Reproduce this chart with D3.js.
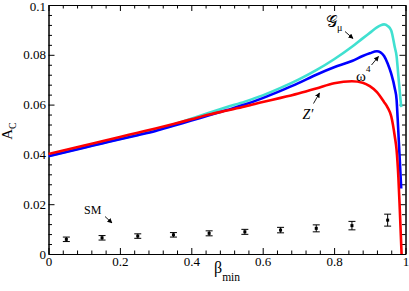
<!DOCTYPE html>
<html>
<head>
<meta charset="utf-8">
<script src="https://cdn.jsdelivr.net/npm/d3@7"></script>
<style>
  body { margin: 0; background: #fff; }
  svg { display: block; }
  .axis text { font-family: "Liberation Serif", "Times New Roman", serif; font-size: 13px; fill: #000; }
  .axis path, .axis line { stroke: #000; stroke-width: 1; }
  .lbl { font-family: "Liberation Serif", "Times New Roman", serif; fill: #000; }
</style>
</head>
<body>
<div id="chart"></div>
<script>
'use strict';

// Z' curve (red)
const redBeta = [0, 0.05, 0.1, 0.15, 0.2, 0.25, 0.3, 0.35, 0.4, 0.45, 0.5, 0.55, 0.6, 0.65, 0.7, 0.75, 0.8, 0.85,
  0.88, 0.9, 0.92, 0.94, 0.95, 0.96, 0.97, 0.975, 0.98, 0.984, 0.989];
const redA = [0.0402, 0.0419, 0.0436, 0.0453, 0.0470, 0.0487, 0.0504, 0.0522, 0.0541, 0.0560, 0.0576, 0.0592, 0.0610, 0.0627, 0.0645, 0.0665, 0.0686, 0.0694,
  0.0688, 0.0674, 0.0650, 0.0610, 0.0588, 0.0553, 0.0472, 0.0418, 0.0310, 0.0180, 0.0];

// omega^4 curve (blue)
const blueBeta = [0, 0.05, 0.1, 0.15, 0.2, 0.25, 0.3, 0.35, 0.4, 0.45, 0.5, 0.55, 0.6, 0.65, 0.7, 0.75, 0.8, 0.85,
  0.88, 0.9, 0.92, 0.93, 0.94, 0.95, 0.96, 0.97, 0.975, 0.978, 0.983, 0.988];
const blueA = [0.0393, 0.0410, 0.0427, 0.0444, 0.0461, 0.0477, 0.0494, 0.0515, 0.0536, 0.0557, 0.0578, 0.0600, 0.0626, 0.0655, 0.0686, 0.0720, 0.0750, 0.0775,
  0.0795, 0.0806, 0.0814, 0.0810, 0.0795, 0.0765, 0.0724, 0.0665, 0.0620, 0.0545, 0.0405, 0.0263];

// G_mu curve (turquoise)
const cyanBeta = [0, 0.05, 0.1, 0.15, 0.2, 0.25, 0.3, 0.35, 0.4, 0.45, 0.5, 0.55, 0.6, 0.65, 0.7, 0.75, 0.8, 0.85,
  0.88, 0.9, 0.92, 0.93, 0.94, 0.95, 0.96, 0.97, 0.975, 0.98, 0.985, 0.988];
const cyanA = [0.0394, 0.0411, 0.0428, 0.0445, 0.0462, 0.0479, 0.0497, 0.0519, 0.0543, 0.0567, 0.0590, 0.0612, 0.0637, 0.0667, 0.0700, 0.0738, 0.0782, 0.0832,
  0.0866, 0.0888, 0.0910, 0.0918, 0.0922, 0.0916, 0.0898, 0.0830, 0.0795, 0.0715, 0.0635, 0.0590];

// SM points with error bars
const smBeta = [0.05, 0.15, 0.25, 0.35, 0.45, 0.55, 0.65, 0.75, 0.85, 0.95];
const smA = [0.0059, 0.0065, 0.0072, 0.0077, 0.0083, 0.0089, 0.0096, 0.0103, 0.0114, 0.0136];
const smErr = [0.0009, 0.0009, 0.0009, 0.0009, 0.0010, 0.0010, 0.0011, 0.0014, 0.0017, 0.0024];

const xTicks = [0, 0.2, 0.4, 0.6, 0.8, 1];
const xTickLabels = ["0", "0.2", "0.4", "0.6", "0.8", "1"];
const yTicks = [0, 0.02, 0.04, 0.06, 0.08, 0.1];
const yTickLabels = ["0", "0.02", "0.04", "0.06", "0.08", "0.1"];

const W = 409, H = 291;
const plotL = 48.5, plotR = 405.5, plotT = 5, plotB = 254;

var svg = d3.select("#chart").append("svg")
    .attr("width", W)
    .attr("height", H);

var x = d3.scaleLinear().domain([0, 1]).range([plotL, plotR]);
var y = d3.scaleLinear().domain([0, 0.1]).range([plotB, plotT]);

var xMinor = d3.range(0, 1.0001, 0.04).filter(function(v) { return Math.abs(v / 0.2 - Math.round(v / 0.2)) > 1e-6; });
var yMinor = d3.range(0, 0.10001, 0.004).filter(function(v) { return Math.abs(v / 0.02 - Math.round(v / 0.02)) > 1e-6; });

// axes: major ticks with labels, minor ticks, mirrored on top/right
svg.append("g").attr("class", "axis")
    .attr("transform", "translate(0," + plotB + ")")
    .call(d3.axisBottom(x).tickValues(xTicks).tickSize(-6).tickSizeOuter(0).tickPadding(3)
      .tickFormat(function(d, i) { return xTickLabels[i]; }));
svg.append("g").attr("class", "axis")
    .attr("transform", "translate(0," + plotB + ")")
    .call(d3.axisBottom(x).tickValues(xMinor).tickSize(-3.5).tickSizeOuter(0).tickFormat(""));
svg.append("g").attr("class", "axis")
    .attr("transform", "translate(0," + plotT + ")")
    .call(d3.axisTop(x).tickValues(xTicks).tickSize(-6).tickSizeOuter(0).tickFormat(""));
svg.append("g").attr("class", "axis")
    .attr("transform", "translate(0," + plotT + ")")
    .call(d3.axisTop(x).tickValues(xMinor).tickSize(-3.5).tickSizeOuter(0).tickFormat(""));

var yAxisG = svg.append("g").attr("class", "axis")
    .attr("transform", "translate(" + plotL + ",0)")
    .call(d3.axisLeft(y).tickValues(yTicks).tickSize(-6).tickSizeOuter(0).tickPadding(2.5)
      .tickFormat(function(d, i) { return yTickLabels[i]; }));
// keep the top label inside the picture
yAxisG.selectAll(".tick text").filter(function(d) { return d === 0.1; }).attr("dy", "0.45em");
svg.append("g").attr("class", "axis")
    .attr("transform", "translate(" + plotL + ",0)")
    .call(d3.axisLeft(y).tickValues(yMinor).tickSize(-3.5).tickSizeOuter(0).tickFormat(""));
svg.append("g").attr("class", "axis")
    .attr("transform", "translate(" + plotR + ",0)")
    .call(d3.axisRight(y).tickValues(yTicks).tickSize(-6).tickSizeOuter(0).tickFormat(""));
svg.append("g").attr("class", "axis")
    .attr("transform", "translate(" + plotR + ",0)")
    .call(d3.axisRight(y).tickValues(yMinor).tickSize(-3.5).tickSizeOuter(0).tickFormat(""));

// curves
var line = d3.line()
    .x(function(d) { return x(d[0]); })
    .y(function(d) { return y(d[1]); })
    .curve(d3.curveMonotoneX);

var series = [
  { beta: cyanBeta, a: cyanA, color: "#40e0d0" },
  { beta: blueBeta, a: blueA, color: "#0000ff" },
  { beta: redBeta, a: redA, color: "#ff0000" }
];

series.forEach(function(s) {
  svg.append("path")
      .datum(d3.zip(s.beta, s.a))
      .attr("d", line)
      .attr("fill", "none")
      .attr("stroke", s.color)
      .attr("stroke-width", 2.6)
      .attr("stroke-linejoin", "round");
});

// SM error bars
var sm = svg.append("g").selectAll("g")
    .data(d3.zip(smBeta, smA, smErr))
  .enter().append("g");

sm.append("line")
    .attr("x1", function(d) { return x(d[0]); })
    .attr("x2", function(d) { return x(d[0]); })
    .attr("y1", function(d) { return y(d[1] - d[2]); })
    .attr("y2", function(d) { return y(d[1] + d[2]); })
    .attr("stroke", "#000").attr("stroke-width", 1);
[-1, 1].forEach(function(sgn) {
  sm.append("line")
      .attr("x1", function(d) { return x(d[0]) - 3.5; })
      .attr("x2", function(d) { return x(d[0]) + 3.5; })
      .attr("y1", function(d) { return y(d[1] + sgn * d[2]); })
      .attr("y2", function(d) { return y(d[1] + sgn * d[2]); })
      .attr("stroke", "#000").attr("stroke-width", 1);
});
sm.append("rect")
    .attr("x", function(d) { return x(d[0]) - 1.5; })
    .attr("y", function(d) { return y(d[1]) - 1.5; })
    .attr("width", 3).attr("height", 3)
    .attr("fill", "#000");

// arrows
svg.append("defs").append("marker")
    .attr("id", "head")
    .attr("viewBox", "0 0 10 10")
    .attr("refX", 9).attr("refY", 5)
    .attr("markerWidth", 5).attr("markerHeight", 5)
    .attr("markerUnits", "userSpaceOnUse")
    .attr("orient", "auto")
  .append("path")
    .attr("d", "M0,0L10,5L0,10z")
    .attr("fill", "#000");

var arrows = [
  [105, 216.5, 112, 223],
  [345, 31.5, 353, 38.5],
  [371.5, 65, 378.5, 56.5],
  [313.5, 103.5, 319.5, 93]
];
arrows.forEach(function(a) {
  svg.append("line")
      .attr("x1", a[0]).attr("y1", a[1])
      .attr("x2", a[2]).attr("y2", a[3])
      .attr("stroke", "#000").attr("stroke-width", 0.9)
      .attr("marker-end", "url(#head)");
});

// labels
svg.append("text").attr("class", "lbl")
    .attr("x", 84).attr("y", 214)
    .style("font-size", "12px")
    .text("SM");

var g = svg.append("text").attr("class", "lbl")
    .attr("x", 326).attr("y", 27)
    .style("font-size", "16px");
g.append("tspan").style("font-weight", "normal").text("\uD835\uDCA2");
g.append("tspan").attr("dy", 4).style("font-size", "10px").text("\u03BC");

var w4 = svg.append("text").attr("class", "lbl")
    .attr("x", 356).attr("y", 81)
    .style("font-size", "15px");
w4.append("tspan").text("\u03C9");
w4.append("tspan").attr("dy", -9).style("font-size", "9px").text("4");

svg.append("text").attr("class", "lbl")
    .attr("x", 302.5).attr("y", 118.5)
    .style("font-size", "14px")
    .style("font-style", "italic")
    .text("Z\u2032");

var yl = svg.append("text").attr("class", "lbl")
    .attr("transform", "translate(12,131) rotate(-90)")
    .attr("text-anchor", "middle")
    .style("font-size", "15px");
yl.append("tspan").text("A");
yl.append("tspan").attr("dy", 4).style("font-size", "10px").text("C");

var xl = svg.append("text").attr("class", "lbl")
    .attr("x", 227).attr("y", 273)
    .attr("text-anchor", "middle")
    .style("font-size", "16px");
xl.append("tspan").text("\u03B2");
xl.append("tspan").attr("dy", 8).style("font-size", "11.5px").text("min");
</script>
</body>
</html>
